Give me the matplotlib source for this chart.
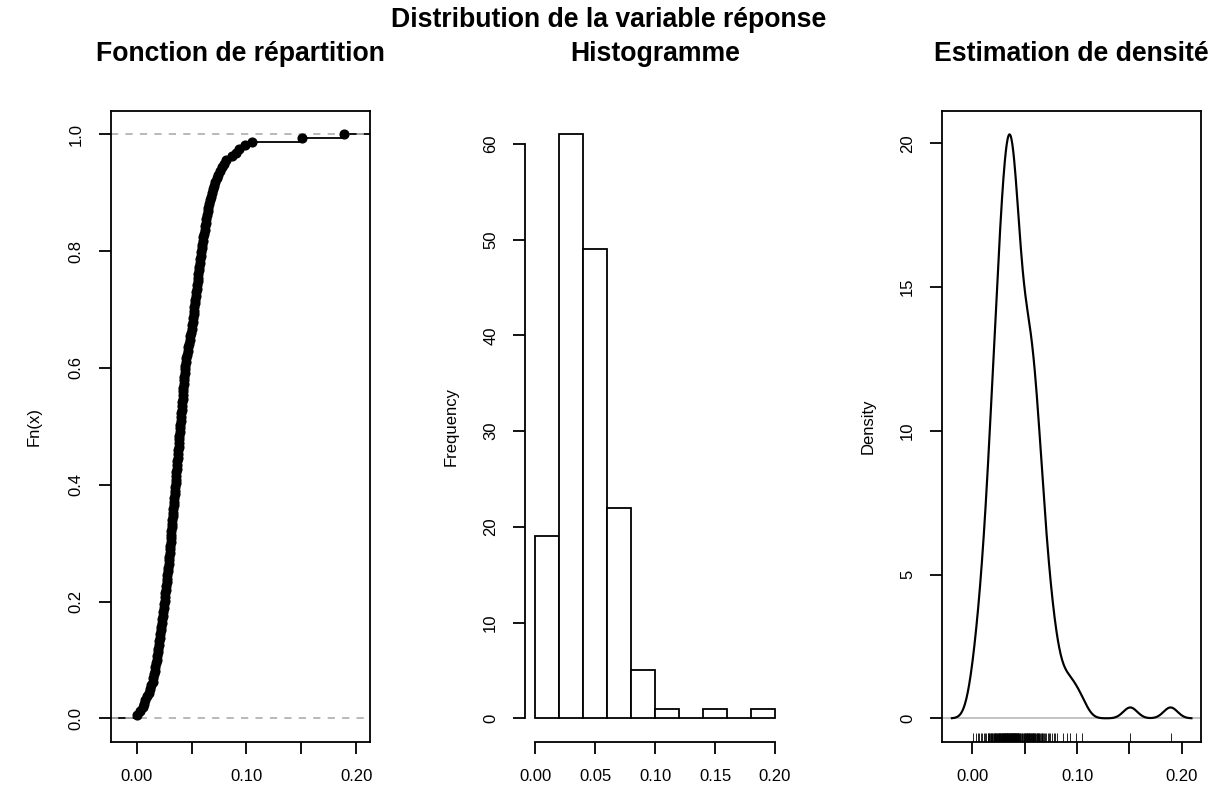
import numpy as np
import matplotlib
matplotlib.use("Agg")
import matplotlib.pyplot as plt

plt.rcParams['font.family'] = ['Liberation Sans', 'DejaVu Sans']

# ---- data: observed response values (read from ECDF / rug / histogram / density) ----
reponse = [
    0.0004, 0.0031,
    0.0058, 0.0066, 0.0079, 0.0093,
    0.0108, 0.0121, 0.0134, 0.0146,
    0.0153, 0.0159, 0.0164, 0.0170, 0.0175, 0.0181, 0.0186, 0.0191, 0.0196,
    0.0203, 0.0207, 0.0212, 0.0216, 0.0221, 0.0225, 0.0230, 0.0234, 0.0239, 0.0243, 0.0247,
    0.0252, 0.0255, 0.0259, 0.0262, 0.0266, 0.0269, 0.0273, 0.0276, 0.0280, 0.0283,
    0.0287, 0.0290, 0.0294, 0.0297,
    0.0301, 0.0303, 0.0306, 0.0309, 0.0312, 0.0314, 0.0317, 0.0320, 0.0323, 0.0325,
    0.0328, 0.0331, 0.0334, 0.0336, 0.0339, 0.0342, 0.0345, 0.0348,
    0.0351, 0.0354, 0.0357, 0.0359, 0.0362, 0.0365, 0.0368, 0.0371, 0.0373, 0.0376,
    0.0379, 0.0382, 0.0384, 0.0387, 0.0390, 0.0392, 0.0395, 0.0398,
    0.0401, 0.0404, 0.0406, 0.0409, 0.0412, 0.0415, 0.0418, 0.0420, 0.0423, 0.0426,
    0.0429, 0.0432, 0.0435, 0.0438, 0.0441, 0.0444, 0.0447,
    0.0454, 0.0460, 0.0466, 0.0472, 0.0478, 0.0484, 0.0490, 0.0496,
    0.0502, 0.0506, 0.0510, 0.0514, 0.0518, 0.0522, 0.0526, 0.0530, 0.0534, 0.0538,
    0.0542, 0.0546,
    0.0551, 0.0555, 0.0559, 0.0563, 0.0567, 0.0571, 0.0575, 0.0579, 0.0583, 0.0587,
    0.0592, 0.0596,
    0.0603, 0.0608, 0.0613, 0.0619, 0.0624, 0.0629, 0.0635, 0.0640, 0.0646,
    0.0653, 0.0661, 0.0669, 0.0677, 0.0685, 0.0693,
    0.0706, 0.0718, 0.0731, 0.0743,
    0.0761, 0.0777, 0.0792,
    0.0812, 0.0866, 0.0908, 0.0935, 0.0988,
    0.1048,
    0.1508, 0.1893,
]
hist_breaks = [0.00, 0.02, 0.04, 0.06, 0.08, 0.10, 0.12, 0.14, 0.16, 0.18, 0.20]
x_ticks = [0.00, 0.05, 0.10, 0.15, 0.20]
x_labels_sparse = ['0.00', '', '0.10', '', '0.20']
x_labels_full = ['0.00', '0.05', '0.10', '0.15', '0.20']
ecdf_yticks = [0.0, 0.2, 0.4, 0.6, 0.8, 1.0]
hist_yticks = [0, 10, 20, 30, 40, 50, 60]
dens_yticks = [0, 5, 10, 15, 20]

main_title = "Distribution de la variable réponse"
titles = ["Fonction de répartition", "Histogramme", "Estimation de densité"]

x = np.sort(np.asarray(reponse))
n = len(x)

W, H = 1217, 792
fig = plt.figure(figsize=(W / 100, H / 100), dpi=100)

def px_axes(left, right, top=111.0, bottom=741.7):
    return fig.add_axes([left / W, 1 - bottom / H, (right - left) / W, (bottom - top) / H])

LW = 1.3
TICKLEN = 8.6
FS = 12
TFS = 19.2

def style(ax):
    ax.tick_params(axis='both', length=TICKLEN, width=LW, labelsize=FS, direction='out')
    ax.tick_params(axis='x', pad=11)
    ax.tick_params(axis='y', pad=11)
    for s in ax.spines.values():
        s.set_linewidth(LW)
    for lab in ax.get_yticklabels():
        lab.set_rotation(90)
        lab.set_va('center')

def ylab(ax, text, off_px):
    bb = ax.get_position()
    wpx = bb.width * W
    ax.text(-off_px / wpx, 0.5, text, transform=ax.transAxes, rotation=90,
            ha='center', va='center', fontsize=FS)

# ---- Panel 1: ECDF ----
ax1 = px_axes(110.7, 370.0)
xl = (-0.0237, 0.2127)
F = np.arange(1, n + 1) / n
ax1.hlines(F[:-1], x[:-1], x[1:], colors='black', lw=LW)
ax1.hlines([0, 1], [xl[0], x[-1]], [x[0], xl[1]], colors='black', lw=LW)
ax1.axhline(0, color='#B3B3B3', ls=(0, (4, 4)), lw=LW)
ax1.axhline(1, color='#B3B3B3', ls=(0, (4, 4)), lw=LW)
ax1.plot(x, F, 'o', color='black', ms=6.3, zorder=3)
ax1.set_xlim(*xl)
ax1.set_ylim(-0.04, 1.04)
ax1.set_xticks(x_ticks)
ax1.set_xticklabels(x_labels_sparse)
ax1.set_yticks(ecdf_yticks)
ax1.set_yticklabels([f"{v:.1f}" for v in ecdf_yticks])
style(ax1)
ylab(ax1, "Fn(x)", 77)

# ---- Panel 2: histogram ----
ax2 = px_axes(525.4, 784.6)
ax2.hist(x, bins=hist_breaks, color='white', edgecolor='black', linewidth=LW)
ax2.set_xlim(-0.008, 0.208)
ax2.set_ylim(-2.44, 63.44)
for s in ['top', 'right']:
    ax2.spines[s].set_visible(False)
ax2.spines['left'].set_bounds(0, 60)
ax2.spines['bottom'].set_bounds(0, 0.2)
ax2.set_xticks(x_ticks)
ax2.set_xticklabels(x_labels_full)
ax2.set_yticks(hist_yticks)
ax2.set_yticklabels([str(v) for v in hist_yticks])
style(ax2)
ylab(ax2, "Frequency", 74)

# ---- Panel 3: kernel density (gaussian, bw.nrd0) ----
ax3 = px_axes(942.3, 1201.0)
sd = np.std(x, ddof=1)
iqr = np.subtract(*np.percentile(x, [75, 25]))
bw = 0.9 * min(sd, iqr / 1.34) * n ** (-0.2)
grid = np.linspace(x.min() - 3 * bw, x.max() + 3 * bw, 512)
dens = np.exp(-0.5 * ((grid[:, None] - x[None, :]) / bw) ** 2).sum(axis=1) / (n * bw * np.sqrt(2 * np.pi))
ax3.axhline(0, color='#BEBEBE', lw=LW)
ax3.plot(grid, dens, color='black', lw=LW * 1.2)
span = grid[-1] - grid[0]
ax3.set_xlim(grid[0] - 0.04 * span, grid[-1] + 0.04 * span)
ymax = dens.max()
ax3.set_ylim(-0.04 * ymax, 1.04 * ymax)
rug_h = 9.0 / (741.7 - 111.0)
ax3.vlines(x, 0, rug_h, transform=ax3.get_xaxis_transform(), colors='black', lw=0.6)
ax3.set_xticks(x_ticks)
ax3.set_xticklabels(x_labels_sparse)
ax3.set_yticks(dens_yticks)
ax3.set_yticklabels([str(v) for v in dens_yticks])
style(ax3)
ylab(ax3, "Density", 74)

# ---- titles ----
fig.text(608.5 / W, 1 - 20 / H, main_title, ha='center', va='center',
         fontsize=TFS, fontweight='bold')
for cx, t in zip([240.3, 655.0, 1071.6], titles):
    fig.text(cx / W, 1 - 54 / H, t, ha='center', va='center',
             fontsize=TFS, fontweight='bold')

fig.savefig("out.png", dpi=100)
